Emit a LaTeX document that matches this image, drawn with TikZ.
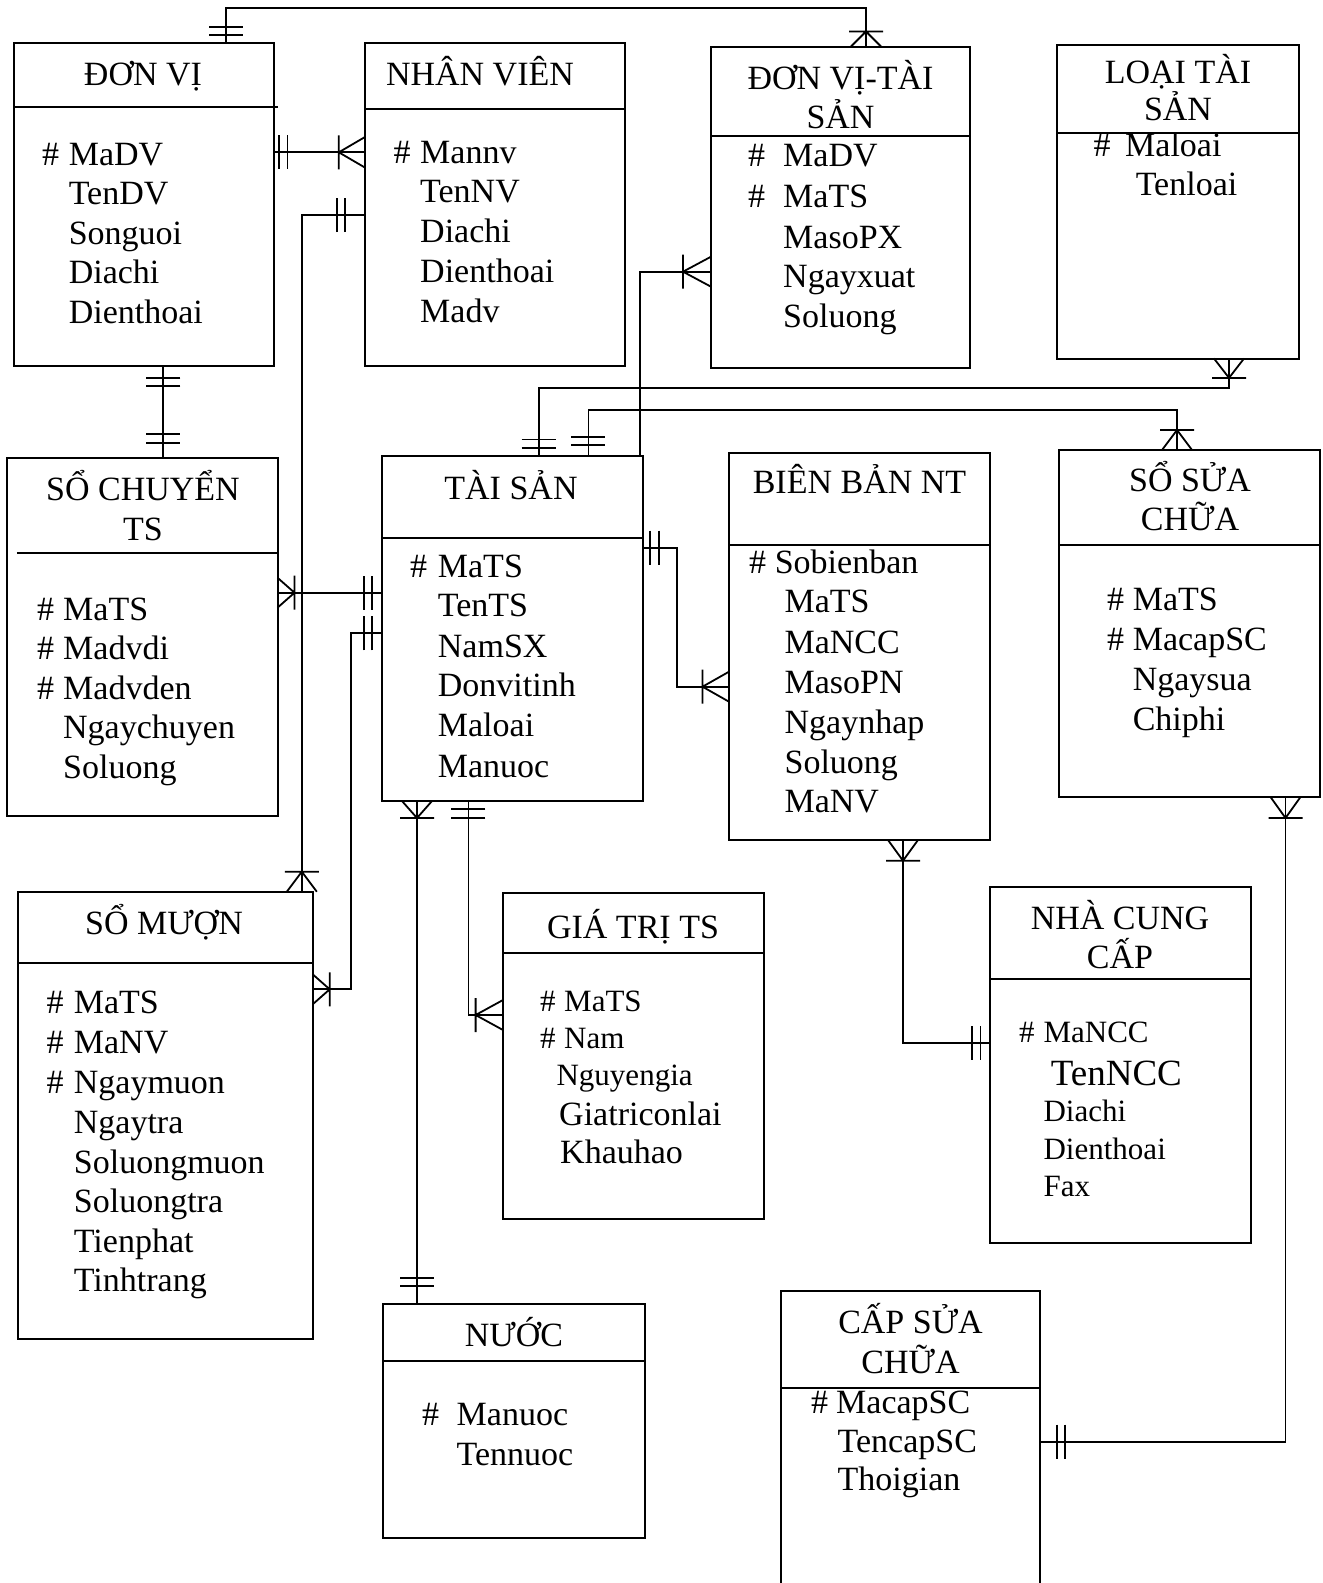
\documentclass[tikz,border=0pt]{standalone}
\usepackage{fontspec}
\setmainfont{Liberation Serif}
\usetikzlibrary{calc}
% crow's foot (one or many) at an entity edge: point, direction away from the box, bar distance
\newcommand{\manyend}[3]{\draw[rel,shift={#1},rotate=#2] (0,-15) -- (#3,0) -- (0,15) (#3,-17) -- (#3,17);}
% two bars (exactly one) at an entity edge: point, direction, distances of the two bars
\newcommand{\oneend}[4]{\draw[rel,shift={#1},rotate=#2] (#3,-17) -- (#3,17) (#4,-17) -- (#4,17);}
\begin{document}
\begin{tikzpicture}[x=1pt,y=-1pt,
  entity/.style={draw,line width=2pt,inner sep=0pt,outer sep=0pt,anchor=north west},
  hdr/.style={line width=2pt},
  rel/.style={line width=1.8pt},
  attr/.style={anchor=base west,inner sep=0pt,font=\fontsize{34}{40}\selectfont},
  small/.style={anchor=base west,inner sep=0pt,font=\fontsize{31}{36}\selectfont},
  big/.style={anchor=base west,inner sep=0pt,font=\fontsize{37}{42}\selectfont},
  title/.style={anchor=base,inner sep=0pt,font=\fontsize{34}{40}\selectfont}]
\fill[white] (0,0) rectangle (1323,1583);
\useasboundingbox (0,0) rectangle (1323,1583);
\clip (0,0) rectangle (1323,1583);

% ---------- entities ----------
\node[entity,minimum width=260pt,minimum height=323pt] (dv) at (14,43) {};
\draw[hdr] (dv.west |- 0,106.5) -- (278,106.5);
\node[entity,minimum width=260pt,minimum height=323pt] (nv) at (364.5,43) {};
\draw[hdr] (nv.west |- 0,109) -- (nv.east |- 0,109);
\node[entity,minimum width=259pt,minimum height=321pt] (dvts) at (711,46.5) {};
\draw[hdr] (dvts.west |- 0,136) -- (dvts.east |- 0,136);
\node[entity,minimum width=242pt,minimum height=314pt] (lts) at (1057,44.5) {};
\draw[hdr] (lts.west |- 0,132.5) -- (lts.east |- 0,132.5);
\node[entity,minimum width=270.5pt,minimum height=357.5pt] (scts) at (7,458) {};
\draw[hdr] (16.8,553.3) -- (scts.east |- 0,553.3);
\node[entity,minimum width=261pt,minimum height=345pt] (ts) at (381.5,456) {};
\draw[hdr] (ts.west |- 0,538.3) -- (ts.east |- 0,538.3);
\node[entity,minimum width=260.5pt,minimum height=387.5pt] (bb) at (729,452.5) {};
\draw[hdr] (bb.west |- 0,545) -- (bb.east |- 0,545);
\node[entity,minimum width=261pt,minimum height=347pt] (ssc) at (1059,450) {};
\draw[hdr] (ssc.west |- 0,545) -- (ssc.east |- 0,545);
\node[entity,minimum width=295pt,minimum height=447.3pt] (sm) at (17.7,891.7) {};
\draw[hdr] (sm.west |- 0,963.3) -- (sm.east |- 0,963.3);
\node[entity,minimum width=261pt,minimum height=326.3pt] (gt) at (503,892.7) {};
\draw[hdr] (gt.west |- 0,952.7) -- (gt.east |- 0,952.7);
\node[entity,minimum width=261pt,minimum height=356pt] (ncc) at (989.5,886.7) {};
\draw[hdr] (ncc.west |- 0,979.3) -- (ncc.east |- 0,979.3);
\node[entity,minimum width=262pt,minimum height=233.4pt] (nuoc) at (383,1304.3) {};
\draw[hdr] (nuoc.west |- 0,1360.7) -- (nuoc.east |- 0,1360.7);
\node[entity,minimum width=259pt,minimum height=330pt] (csc) at (781,1291) {};
\draw[hdr] (csc.west |- 0,1387.7) -- (csc.east |- 0,1387.7);

% ---------- titles ----------
\node[title] (dv-t) at (143,85) {ĐƠN VỊ};
\node[title] (nv-t) at (480,85) {NHÂN VIÊN};
\node[title] (dvts-t1) at (840.5,89) {ĐƠN VỊ-TÀI};
\node[title] (dvts-t2) at (840.5,128) {SẢN};
\node[title] (lts-t1) at (1178,83.3) {LOẠI TÀI};
\node[title] (lts-t2) at (1178,120) {SẢN};
\node[title] (scts-t1) at (143,500.7) {SỔ CHUYỂN};
\node[title] (scts-t2) at (143,540) {TS};
\node[title] (ts-t) at (511,499.3) {TÀI SẢN};
\node[title] (bb-t) at (859.5,493.3) {BIÊN BẢN NT};
\node[title] (ssc-t1) at (1190,491.7) {SỔ SỬA};
\node[title] (ssc-t2) at (1190,530.7) {CHỮA};
\node[title] (sm-t) at (164,934) {SỔ MƯỢN};
\node[title] (gt-t) at (633,938.3) {GIÁ TRỊ TS};
\node[title] (ncc-t1) at (1120,929.3) {NHÀ CUNG};
\node[title] (ncc-t2) at (1120,968.3) {CẤP};
\node[title] (nuoc-t) at (514,1346) {NƯỚC};
\node[title] (csc-t1) at (910.5,1333) {CẤP SỬA};
\node[title] (csc-t2) at (910.5,1373) {CHỮA};

% ---------- key marks ----------
\foreach \x/\y [count=\i] in {42/165, 393.5/163, 748/166.7, 748/207, 1093.5/156.7,
    37/620, 37/659.3, 37/699.3, 410/577.3, 749/573.3, 1107/610, 1107/650,
    46.3/1013.3, 46.3/1053.3, 46.3/1093.3, 422/1425, 811/1413}
  \node[attr] (key\i) at (\x,\y) {\#};
\foreach \x/\y [count=\i] in {540/1011.7, 540/1048.3, 1018.8/1042.7}
  \node[small] (skey\i) at (\x,\y) {\#};

% ---------- attributes ----------
\foreach \t/\y [count=\i] in {MaDV/165, TenDV/204.5, Songuoi/244, Diachi/283.5, Dienthoai/323}
  \node[attr] (dv-a\i) at (68.6,\y) {\t};
\foreach \t/\y [count=\i] in {Mannv/163, TenNV/202.7, Diachi/242.7, Dienthoai/282.7, Madv/322.7}
  \node[attr] (nv-a\i) at (420,\y) {\t};
\foreach \t/\y [count=\i] in {MaDV/166.7, MaTS/207, MasoPX/248, Ngayxuat/287.5, Soluong/327}
  \node[attr] (dvts-a\i) at (783,\y) {\t};
\node[attr] (lts-a1) at (1125,156.7) {Maloai};
\node[attr] (lts-a2) at (1135.6,195) {Tenloai};
\foreach \t/\y [count=\i] in {MaTS/620, Madvdi/659.3, Madvden/699.3, Ngaychuyen/738.3, Soluong/778.3}
  \node[attr] (scts-a\i) at (63,\y) {\t};
\foreach \t/\y [count=\i] in {MaTS/577.3, TenTS/616.7, NamSX/657.3, Donvitinh/696.7, Maloai/736.7, Manuoc/777.3}
  \node[attr] (ts-a\i) at (437.7,\y) {\t};
\node[attr] (bb-a0) at (774.6,573.3) {Sobienban};
\foreach \t/\y [count=\i] in {MaTS/612.7, MaNCC/653, MasoPN/693, Ngaynhap/733, Soluong/773, MaNV/812.7}
  \node[attr] (bb-a\i) at (784.4,\y) {\t};
\foreach \t/\y [count=\i] in {MaTS/610, MacapSC/650, Ngaysua/690, Chiphi/730}
  \node[attr] (ssc-a\i) at (1132.6,\y) {\t};
\foreach \t/\y [count=\i] in {MaTS/1013.3, MaNV/1053.3, Ngaymuon/1093.3, Ngaytra/1133.3,
    Soluongmuon/1173.3, Soluongtra/1212.7, Tienphat/1252.7, Tinhtrang/1291.7}
  \node[attr] (sm-a\i) at (73.7,\y) {\t};
\node[small] (gt-a1) at (564,1011.7) {MaTS};
\node[small] (gt-a2) at (564,1048.3) {Nam};
\node[small] (gt-a3) at (556.4,1085) {Nguyengia};
\node[attr] (gt-a4) at (559,1125) {Giatriconlai};
\node[attr] (gt-a5) at (560,1163.3) {Khauhao};
\node[small] (ncc-a1) at (1043.4,1042.7) {MaNCC};
\node[big] (ncc-a2) at (1050.6,1085) {TenNCC};
\node[small] (ncc-a3) at (1043.4,1121.7) {Diachi};
\node[small] (ncc-a4) at (1043.4,1159.3) {Dienthoai};
\node[small] (ncc-a5) at (1043.4,1196.7) {Fax};
\node[attr] (nuoc-a1) at (456.5,1425) {Manuoc};
\node[attr] (nuoc-a2) at (456.5,1465) {Tennuoc};
\node[attr] (csc-a1) at (836,1413) {MacapSC};
\node[attr] (csc-a2) at (837.5,1452.7) {TencapSC};
\node[attr] (csc-a3) at (837.5,1490) {Thoigian};

% ---------- relationships ----------
% ĐƠN VỊ -- ĐƠN VỊ-TÀI SẢN
\draw[rel] (226,0 |- dv.north) -- (226,8.3) -- (866,8.3) -- (866,0 |- dvts.north);
\oneend{(226,0 |- dv.north)}{90}{8}{16.3}
\manyend{(866,0 |- dvts.north)}{90}{15}
% ĐƠN VỊ -- NHÂN VIÊN
\draw[rel] (dv.east |- 0,152.3) -- (nv.west |- 0,152.3);
\oneend{(dv.east |- 0,152.3)}{0}{4.6}{13.5}
\manyend{(nv.west |- 0,152.3)}{180}{25.7}
% NHÂN VIÊN -- SỔ MƯỢN
\draw[rel] (nv.west |- 0,215) -- (301.8,215) -- (301.8,0 |- sm.north);
\oneend{(nv.west |- 0,215)}{180}{19.5}{27.8}
\manyend{(301.8,0 |- sm.north)}{90}{20}
% ĐƠN VỊ -- SỔ CHUYỂN TS
\draw[rel] (163.3,0 |- dv.south) -- (163.3,0 |- scts.north);
\oneend{(163.3,0 |- dv.south)}{270}{11.7}{19.7}
\oneend{(163.3,0 |- scts.north)}{90}{15.3}{23.7}
% TÀI SẢN -- ĐƠN VỊ-TÀI SẢN
\draw[rel] (639.7,0 |- ts.north) -- (639.7,271.7) -- (dvts.west |- 0,271.7);
\manyend{(dvts.west |- 0,271.7)}{180}{28}
% LOẠI TÀI SẢN -- TÀI SẢN
\draw[rel] (1229,0 |- lts.south) -- (1229,387.7) -- (538.7,387.7) -- (538.7,0 |- ts.north);
\manyend{(1229,0 |- lts.south)}{270}{19.4}
\oneend{(538.7,0 |- ts.north)}{90}{8}{16.5}
% SỔ SỬA CHỮA -- TÀI SẢN
\draw[rel] (1177,0 |- ssc.north) -- (1177,410) -- (588.4,410) -- (588.4,0 |- ts.north);
\manyend{(1177,0 |- ssc.north)}{90}{20}
\oneend{(588.4,0 |- ts.north)}{90}{11}{19.3}
% SỔ CHUYỂN TS -- TÀI SẢN
\draw[rel] (scts.east |- 0,592.7) -- (ts.west |- 0,592.7);
\manyend{(scts.east |- 0,592.7)}{0}{17}
\oneend{(ts.west |- 0,592.7)}{180}{9.2}{17.7}
% TÀI SẢN -- SỔ MƯỢN
\draw[rel] (ts.west |- 0,633.3) -- (350.6,633.3) -- (350.6,989.3) -- (sm.east |- 0,989.3);
\oneend{(ts.west |- 0,633.3)}{180}{9.2}{17.7}
\manyend{(sm.east |- 0,989.3)}{0}{17}
% TÀI SẢN -- BIÊN BẢN NT
\draw[rel] (ts.east |- 0,547.7) -- (677,547.7) -- (677,686.7) -- (bb.west |- 0,686.7);
\oneend{(ts.east |- 0,547.7)}{0}{7.7}{16.4}
\manyend{(bb.west |- 0,686.7)}{180}{26.5}
% TÀI SẢN -- NƯỚC
\draw[rel] (417,0 |- ts.south) -- (417,0 |- nuoc.north);
\manyend{(417,0 |- ts.south)}{270}{17}
\oneend{(417,0 |- nuoc.north)}{90}{18.3}{26.3}
% TÀI SẢN -- GIÁ TRỊ TS
\draw[rel] (468.4,0 |- ts.south) -- (468.4,1015) -- (gt.west |- 0,1015);
\oneend{(468.4,0 |- ts.south)}{270}{8}{16.7}
\manyend{(gt.west |- 0,1015)}{180}{27.4}
% BIÊN BẢN NT -- NHÀ CUNG CẤP
\draw[rel] (903,0 |- bb.south) -- (903,1042.7) -- (ncc.west |- 0,1042.7);
\manyend{(903,0 |- bb.south)}{270}{20.7}
\oneend{(ncc.west |- 0,1042.7)}{180}{9}{17.5}
% SỔ SỬA CHỮA -- CẤP SỬA CHỮA
\draw[rel] (1285.5,0 |- ssc.south) -- (1285.5,1441.7) -- (csc.east |- 0,1441.7);
\manyend{(1285.5,0 |- ssc.south)}{270}{21}
\oneend{(csc.east |- 0,1441.7)}{0}{17}{25}
\end{tikzpicture}
\end{document}
